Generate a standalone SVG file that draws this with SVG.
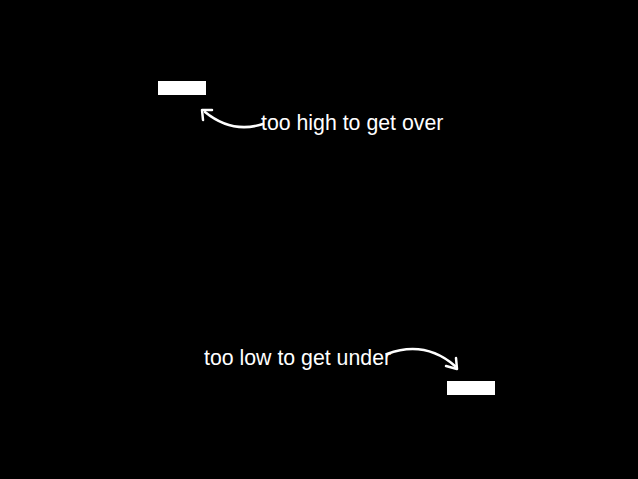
<svg xmlns="http://www.w3.org/2000/svg" width="638" height="479" viewBox="0 0 638 479">
<defs>
<style>
.bar{fill:#fff}
.lbl{font-family:"Liberation Sans",Arial,sans-serif;font-size:21.3px;fill:#fff}
.arr{fill:none;stroke:#fff;stroke-width:2.5;stroke-linecap:round}
.head{fill:none;stroke:#fff;stroke-width:2.5;stroke-linecap:round;stroke-linejoin:round}
</style>
</defs>
<rect width="638" height="479" fill="#000"/>
<g id="bar-high"><rect class="bar" x="158" y="81" width="48" height="14"/></g>
<g id="bar-low"><rect class="bar" x="447" y="381" width="48" height="14"/></g>
<g id="label-high"><text class="lbl" x="261" y="130">too high to get over</text></g>
<g id="label-low"><text class="lbl" x="204" y="365">too low to get under</text></g>
<g id="connectors">
<path class="arr" d="M263,124 Q232,134 205,112"/>
<path class="head" d="M203,120 L202,110 L212,110"/>
<path class="arr" d="M387,354 Q425,340 455,366"/>
<path class="head" d="M446,366 L457,369 L456,358"/>
</g>
</svg>
